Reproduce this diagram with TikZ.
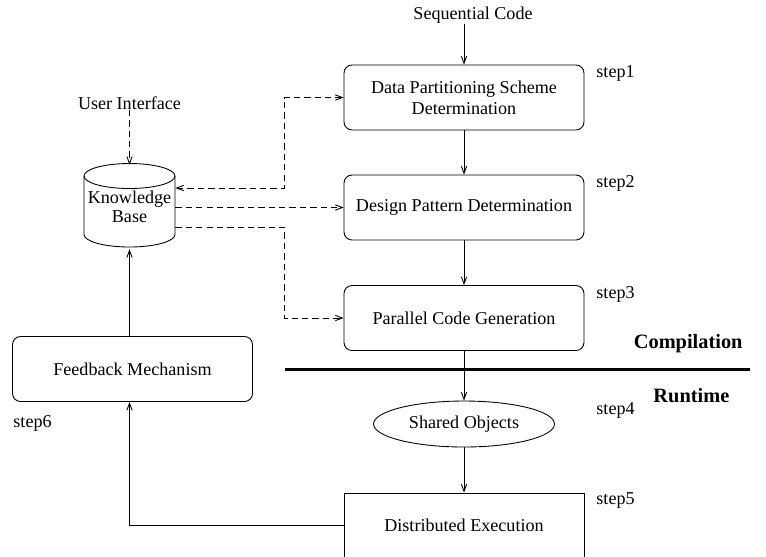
\documentclass[tikz,border=0pt]{standalone}
\usepackage{fontspec}
\setmainfont{Liberation Serif}
\usetikzlibrary{arrows.meta,shapes.geometric,calc}

\begin{document}
\begin{tikzpicture}[x=0.02cm, y=0.02cm, line width=0.5pt,
		font=\fontsize{10.3}{12}\selectfont,
		>={Straight Barb[length=4pt,width=3pt]},
		stepbox/.style={draw, rounded corners=0.16cm, minimum width=4.8cm, minimum height=1.3cm, align=center},
		plainbox/.style={draw, minimum width=4.8cm, minimum height=1.3cm},
		steplabel/.style={anchor=west, inner sep=0pt},
		phase/.style={font=\fontsize{11.6}{14}\bfseries\selectfont, inner sep=0pt},
		link/.style={->, dash pattern=on 3.6pt off 2.3pt}]
			%%%%% START %%%%%
			
			\useasboundingbox (0, 0) rectangle (766, -556);
			\clip (0, 0) rectangle (766, -556);
			
			\node[inner sep=0pt] (seq) at (473, -15) {Sequential Code};
			\node[stepbox] (dp) at (464, -97.5) {Data Partitioning Scheme\\Determination};
			\node[stepbox] (dpd) at (464, -207.5) {Design Pattern Determination};
			\node[stepbox] (pcg) at (464, -318) {Parallel Code Generation};
			\node[draw, ellipse, minimum width=3.62cm, minimum height=0.92cm, inner sep=0pt] (so) at (464, -424) {Shared Objects};
			\node[plainbox] (de) at (464, -525.5) {Distributed Execution};
			
			\node[stepbox] (fb) at (132.5, -369) {Feedback Mechanism};
			\node[inner sep=0pt] (ui) at (129.5, -103) {User Interface};
			
			% knowledge base cylinder
			\draw (84, -176) -- (84, -234.5) arc (180:360:45.5 and 12.5) -- (175, -176);
			\draw (129.5, -176) ellipse (45.5 and 12.5);
			\node[minimum width=1.82cm, minimum height=1.67cm, inner sep=0pt, align=center, font=\fontsize{10.3}{10.5}\selectfont] (kb) at (129.5, -207) {Knowledge\\Base};
			
			\node[steplabel] (s1) at (596, -73) {step1};
			\node[steplabel] (s2) at (596, -183) {step2};
			\node[steplabel] (s3) at (596, -294) {step3};
			\node[steplabel] (s4) at (596, -410) {step4};
			\node[steplabel] (s5) at (596, -500) {step5};
			\node[steplabel] (s6) at (13, -423) {step6};
			
			\node[phase, anchor=east] (comp) at (743, -344) {Compilation};
			\node[phase, anchor=west] (run) at (653, -396) {Runtime};
			\draw[line width=1.7pt] (285, -369) -- (750, -369);
			
			% main flow
			\draw[->] (seq.south -| dp.north) -- (dp);
			\draw[->] (dp) -- (dpd);
			\draw[->] (dpd) -- (pcg);
			\draw[->] (pcg) -- (so);
			\draw[->] (so) -- (de);
			\draw[->] (de.west) -| (fb.south -| kb.south);
			\draw[->] (fb.north -| kb.south) -- (kb.south);
			
			% knowledge base links
			\coordinate (bend) at (284, 0);
			\draw[link] (ui) -- (kb.north);
			\draw[link, <->] ($(kb.east)+(0, 19)$) -| (bend |- dp.west) -- (dp.west);
			\draw[link] (kb.east |- dpd.west) -- (dpd.west);
			\draw[link] ($(kb.east)+(0, -20)$) -| (bend |- pcg.west) -- (pcg.west);
			
			%%%%% END %%%%%
\end{tikzpicture}
\end{document}
